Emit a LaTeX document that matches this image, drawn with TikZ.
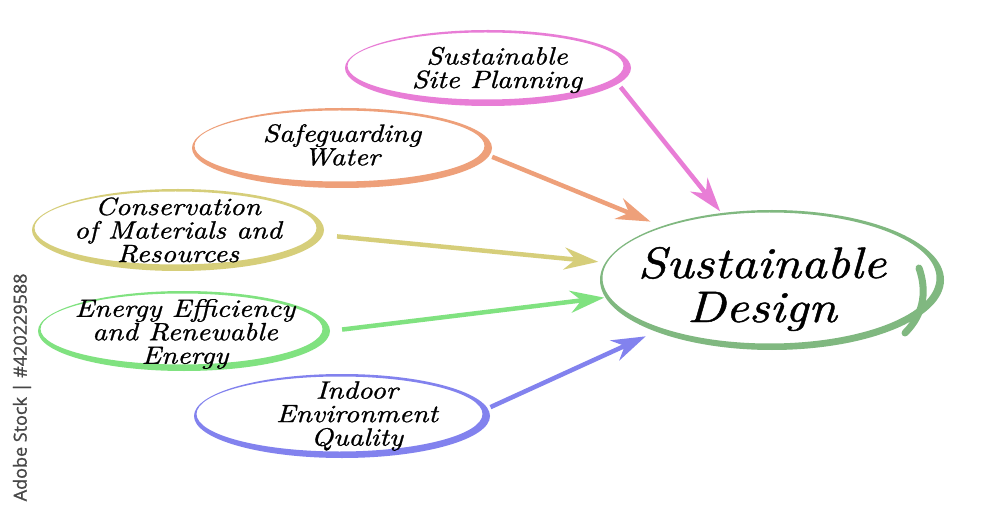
\documentclass[tikz,border=0pt]{standalone}
\usepackage{fontspec}
\newfontfamily\wmfont{Open Sans}[FakeBold=1.2]
\newfontfamily\hand{lmroman10-italic}[Extension=.otf, FakeStretch=1.15, FakeBold=1]
\usetikzlibrary{arrows.meta,calc,shapes.geometric}
\definecolor{cpink}{RGB}{232,125,214}
\definecolor{corange}{RGB}{238,160,122}
\definecolor{cyellow}{RGB}{214,206,122}
\definecolor{cgreen}{RGB}{128,226,128}
\definecolor{cblue}{RGB}{130,130,238}
\definecolor{cmain}{RGB}{128,184,128}
\tikzset{
  shp/.style={shape=ellipse, inner sep=0pt},
  txt/.style={inner sep=0pt, align=center, font=\hand\fontsize{25}{23.5}\selectfont},
  conn/.style={line width=4.5pt, -{Stealth[length=34pt,width=22pt,inset=11pt]}},
}
\newcommand\brushell[4]{%
  \fill[#4, even odd rule] (#1) ellipse [x radius=#2, y radius=#3]
    ($(#1)+(-2.5,-2)$) ellipse [x radius=#2-5, y radius=#3-4.5];
}
\begin{document}
\begin{tikzpicture}[x=1pt,y=-1pt]
\clip (0,0) rectangle (1000,510);
\fill[white] (0,0) rectangle (1000,510);

% ellipse shapes
\node[shp, minimum width=286pt, minimum height=76pt] (site) at (488,68) {};
\node[shp, minimum width=300pt, minimum height=80pt] (water) at (342,148) {};
\node[shp, minimum width=292pt, minimum height=82pt] (mat) at (178,230) {};
\node[shp, minimum width=292pt, minimum height=80pt] (energy) at (184,331) {};
\node[shp, minimum width=296pt, minimum height=84pt] (indoor) at (342,416) {};
\node[shp, minimum width=344pt, minimum height=140pt] (design) at (772,280) {};

% brush ellipses
\brushell{site}{143}{38}{cpink}
\brushell{water}{150}{40}{corange}
\brushell{mat}{146}{41}{cyellow}
\brushell{energy}{146}{40}{cgreen}
\brushell{indoor}{148}{42}{cblue}
\brushell{design}{172}{70}{cmain}
\draw[cmain, line width=7pt, line cap=round] (919,268) .. controls (926,288) and (926,312) .. (905,333);

% texts
\node[txt] (site-t) at (497,70) {Sustainable\\Site Planning};
\node[txt] (water-t) at (342,145) {Safeguarding\\Water};
\node[txt] (mat-t) at (178,230) {Conservation\\of Materials and\\Resources};
\node[txt] (energy-t) at (185,334) {Energy Efficiency\\and Renewable\\Energy};
\node[txt] (indoor-t) at (357,416) {Indoor\\Environment\\Quality};
\node[txt, font=\hand\fontsize{44}{44}\selectfont] (design-t) at (762,289) {Sustainable\\Design};

% connectors
\draw[conn, cpink, shorten <=4pt, shorten >=2pt] (site.-7) -- (design.127);
\draw[conn, corange, shorten <=3pt, shorten >=12pt] (water.-3) -- (design.154);
\draw[conn, cyellow, shorten <=14pt, shorten >=7pt] (mat.-2) -- (design.174);
\draw[conn, cgreen, shorten <=12pt, shorten >=1pt] (energy.0) -- (design.186);
\draw[conn, cblue, shorten <=3pt, shorten >=11pt] (indoor.3) -- (design.204);

% watermark
\node[rotate=90, anchor=east, text=black!72, font=\wmfont\fontsize{18}{18}\selectfont] (wm) at (22,270) {Adobe Stock | \#420229588};
\end{tikzpicture}
\end{document}
